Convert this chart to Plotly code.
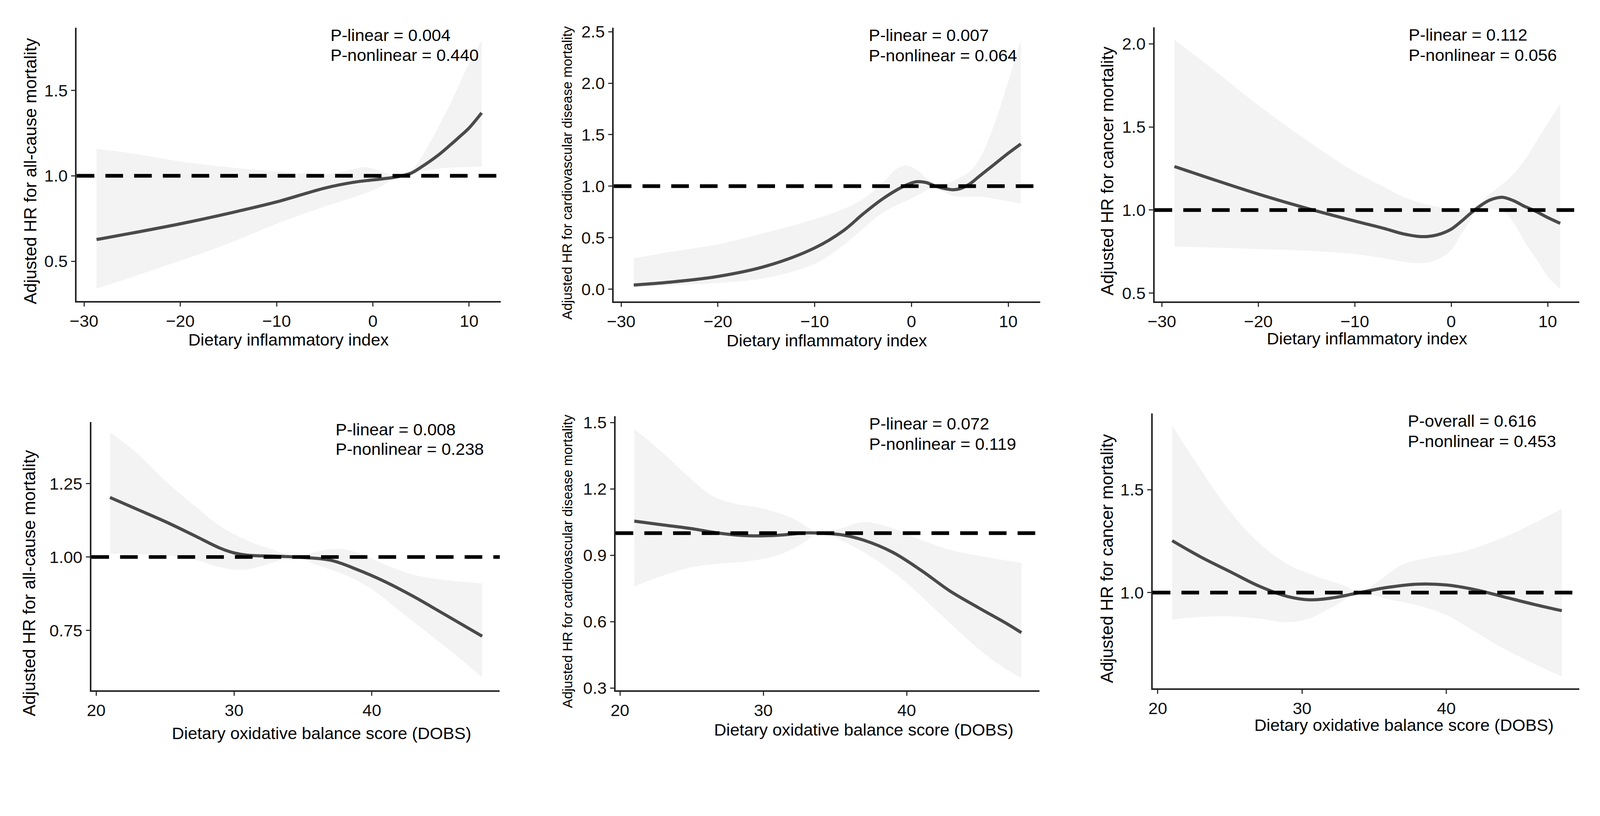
import plotly.graph_objects as go

# The photo is taken at 4345x2090 device pixels; the page viewport is narrower in CSS px,
# so geometry measured on the reference (device px) is converted with K below.
SCREEN_W, SCREEN_H = 4345, 2090
K = 4345 / 4096
BODY = 8  # default page margin in CSS px
W = 4096
H = round(SCREEN_H / K)
REF = 1.0

# ---------------- data ----------------
# Panel 1: DII vs all-cause mortality
p1_cx = [-28.7, -25, -20, -15, -10, -5, -2, 0, 2, 3, 4, 5, 6, 7, 8, 9, 10, 11.3]
p1_cy = [0.627, 0.665, 0.719, 0.78, 0.847, 0.928, 0.962, 0.976, 0.989, 1.0, 1.016, 1.05, 1.088, 1.13, 1.178, 1.228, 1.28, 1.368]
p1_ux = [-28.7, -25, -20, -15, -10, -5, -3, -1, 0, 1, 2, 3, 4, 5, 6, 7, 8, 9, 10, 11.3]
p1_uy = [1.158, 1.131, 1.084, 1.05, 1.026, 1.009, 1.026, 1.05, 1.043, 1.023, 1.005, 1.0, 1.03, 1.104, 1.2, 1.307, 1.415, 1.536, 1.658, 1.793]
p1_lx = [-28.7, -25, -20, -15, -10, -5, -2, 0, 1, 2, 3, 4, 5, 6, 7, 9, 11.3]
p1_ly = [0.34, 0.408, 0.503, 0.604, 0.719, 0.82, 0.874, 0.915, 0.942, 0.976, 1.0, 1.012, 1.026, 1.034, 1.043, 1.05, 1.053]

# Panel 2: DII vs CVD mortality
p2_cx = [-28.7, -25, -20, -15, -10, -7, -5, -3, -1, 0, 0.5, 1.5, 2.5, 3.5, 4.3, 5, 6, 7, 8, 9, 10, 11.3]
p2_cy = [0.04, 0.067, 0.123, 0.224, 0.40, 0.57, 0.73, 0.875, 0.99, 1.03, 1.043, 1.035, 1.0, 0.975, 0.965, 0.975, 1.02, 1.095, 1.17, 1.245, 1.32, 1.41]
p2_ux = [-28.7, -25, -20, -15, -10, -7, -5, -3, -1.5, -0.5, 0.5, 1.5, 2.5, 3.5, 4.5, 6, 7, 8, 9, 10, 11.3]
p2_uy = [0.30, 0.36, 0.435, 0.55, 0.68, 0.78, 0.875, 1.03, 1.17, 1.20, 1.16, 1.08, 1.0, 1.02, 1.06, 1.14, 1.26, 1.46, 1.72, 2.02, 2.42]
p2_lx = [-28.7, -25, -20, -15, -10, -7, -5, -3, -1, 0, 1, 2, 2.5, 3, 4, 5, 7, 9, 11.3]
p2_ly = [0.02, 0.035, 0.06, 0.11, 0.245, 0.43, 0.59, 0.74, 0.84, 0.88, 0.93, 0.985, 1.0, 0.965, 0.915, 0.895, 0.90, 0.87, 0.83]

# Panel 3: DII vs cancer mortality
p3_cx = [-28.7, -25, -20, -15, -10, -7, -5, -3, -1.5, 0, 1, 2, 3, 4, 5.3, 6.5, 7.5, 8.5, 10, 11.3]
p3_cy = [1.262, 1.19, 1.096, 1.011, 0.934, 0.89, 0.857, 0.84, 0.85, 0.885, 0.93, 0.98, 1.025, 1.06, 1.077, 1.055, 1.025, 1.0, 0.955, 0.92]
p3_ux = [-28.7, -25, -20, -15, -10, -7, -5, -3, -1, 1, 2.5, 3.5, 4.5, 6, 7.5, 9, 10, 11.3]
p3_uy = [2.025, 1.86, 1.63, 1.42, 1.23, 1.14, 1.08, 1.04, 1.015, 1.003, 1.0, 1.07, 1.12, 1.19, 1.29, 1.43, 1.52, 1.64]
p3_lx = [-28.7, -25, -20, -15, -10, -7, -5, -3, -1.5, 0, 1, 2, 2.5, 3.5, 4.5, 5.5, 6.5, 7.5, 9, 10, 11.3]
p3_ly = [0.78, 0.775, 0.765, 0.755, 0.735, 0.71, 0.69, 0.68, 0.70, 0.76, 0.85, 0.94, 0.99, 1.0, 1.005, 0.99, 0.92, 0.82, 0.69, 0.60, 0.525]

# Panel 4: DOBS vs all-cause mortality
p4_cx = [21, 23, 25, 27, 29, 30, 31, 33, 34.5, 37, 39, 41, 43, 45, 48]
p4_cy = [1.203, 1.162, 1.121, 1.076, 1.03, 1.014, 1.006, 1.003, 1.0, 0.989, 0.956, 0.915, 0.866, 0.812, 0.73]
p4_ux = [21, 23, 25, 27, 29, 31, 33, 34.5, 36, 37.5, 39, 41, 43, 45, 48]
p4_uy = [1.426, 1.352, 1.26, 1.18, 1.105, 1.055, 1.022, 1.0, 1.018, 1.028, 1.014, 0.973, 0.94, 0.923, 0.91]
p4_lx = [21, 23, 25, 27, 29, 30.5, 32, 34.5, 36, 38, 40, 42, 44, 46, 48]
p4_ly = [1.012, 1.01, 1.006, 0.993, 0.965, 0.956, 0.969, 1.0, 0.973, 0.94, 0.89, 0.817, 0.743, 0.669, 0.59]

# Panel 5: DOBS vs CVD mortality
p5_cx = [21, 23, 25, 27, 29, 31, 33, 34, 35.5, 37, 39, 41, 43, 45, 47, 48]
p5_cy = [1.054, 1.037, 1.02, 0.999, 0.988, 0.99, 1.001, 1.0, 0.992, 0.968, 0.914, 0.832, 0.739, 0.663, 0.59, 0.55]
p5_ux = [21, 23, 25, 26.5, 28, 30, 32, 34, 35.5, 37, 39, 41, 43, 45, 48]
p5_uy = [1.471, 1.362, 1.242, 1.166, 1.133, 1.111, 1.068, 1.0, 1.023, 1.05, 1.023, 0.969, 0.925, 0.898, 0.865]
p5_lx = [21, 23, 25, 27, 29, 31, 32.5, 34, 36, 38, 40, 42, 44, 46, 48]
p5_ly = [0.759, 0.808, 0.846, 0.862, 0.873, 0.9, 0.944, 1.0, 0.949, 0.873, 0.775, 0.655, 0.535, 0.426, 0.344]

# Panel 6: DOBS vs cancer mortality
p6_cx = [21, 23, 25, 27, 29, 30.5, 32, 34, 36, 38, 40, 42, 44, 46, 48]
p6_cy = [1.252, 1.172, 1.102, 1.032, 0.981, 0.965, 0.973, 1.0, 1.026, 1.041, 1.037, 1.014, 0.979, 0.944, 0.912]
p6_ux = [21, 23, 25, 27, 29, 31, 33, 34, 35.5, 37, 39, 41, 43, 45, 48]
p6_uy = [1.81, 1.594, 1.395, 1.242, 1.137, 1.078, 1.032, 1.0, 1.067, 1.137, 1.172, 1.196, 1.242, 1.3, 1.406]
p6_lx = [21, 23, 25, 27, 29, 30.5, 32, 34, 36, 38, 40, 42, 44, 46, 48]
p6_ly = [0.868, 0.882, 0.885, 0.874, 0.856, 0.874, 0.926, 0.996, 0.967, 0.938, 0.891, 0.809, 0.727, 0.657, 0.593]

# tick labels
dii_ticks = [-30, -20, -10, 0, 10]
dii_labels = ["\u221230", "\u221220", "\u221210", "0", "10"]
dobs_ticks = [20, 30, 40]
dobs_labels = ["20", "30", "40"]

p1_yt = [0.5, 1.0, 1.5]; p1_yl = ["0.5", "1.0", "1.5"]
p2_yt = [0.0, 0.5, 1.0, 1.5, 2.0, 2.5]; p2_yl = ["0.0", "0.5", "1.0", "1.5", "2.0", "2.5"]
p3_yt = [0.5, 1.0, 1.5, 2.0]; p3_yl = ["0.5", "1.0", "1.5", "2.0"]
p4_yt = [0.75, 1.0, 1.25]; p4_yl = ["0.75", "1.00", "1.25"]
p5_yt = [0.3, 0.6, 0.9, 1.2, 1.5]; p5_yl = ["0.3", "0.6", "0.9", "1.2", "1.5"]
p6_yt = [1.0, 1.5]; p6_yl = ["1.0", "1.5"]

xtitle_dii = "Dietary inflammatory index"
xtitle_dobs = "Dietary oxidative balance score (DOBS)"
ytitles = ["Adjusted HR for all-cause mortality",
           "Adjusted HR for cardiovascular disease mortality",
           "Adjusted HR for cancer mortality",
           "Adjusted HR for all-cause mortality",
           "Adjusted HR for cardiovascular disease mortality",
           "Adjusted HR for cancer mortality"]
ptext = [("P-linear = 0.004", "P-nonlinear = 0.440"),
         ("P-linear = 0.007", "P-nonlinear = 0.064"),
         ("P-linear = 0.112", "P-nonlinear = 0.056"),
         ("P-linear = 0.008", "P-nonlinear = 0.238"),
         ("P-linear = 0.072", "P-nonlinear = 0.119"),
         ("P-overall = 0.616", "P-nonlinear = 0.453")]

# ---------------- layout geometry (device pixels measured on the reference) ----------------
panels = [
    dict(c=(p1_cx, p1_cy), u=(p1_ux, p1_uy), l=(p1_lx, p1_ly), px=(190, 1347), py=(62, 817),
         xr=[-30.76, 13.3], yr=[0.267, 1.867], xt=(dii_ticks, dii_labels), yt=(p1_yt, p1_yl),
         xtitle=xtitle_dii, xtpos=(768, 924), ytpos=(63, 458), ytsize=47),
    dict(c=(p2_cx, p2_cy), u=(p2_ux, p2_uy), l=(p2_lx, p2_ly), px=(1655, 2818), py=(62, 818),
         xr=[-30.76, 13.3], yr=[-0.12, 2.54], xt=(dii_ticks, dii_labels), yt=(p2_yt, p2_yl),
         xtitle=xtitle_dii, xtpos=(2236, 926), ytpos=(1528, 463), ytsize=37),
    dict(c=(p3_cx, p3_cy), u=(p3_ux, p3_uy), l=(p3_lx, p3_ly), px=(3130, 4289), py=(61, 818),
         xr=[-30.76, 13.3], yr=[0.45, 2.10], xt=(dii_ticks, dii_labels), yt=(p3_yt, p3_yl),
         xtitle=xtitle_dii, xtpos=(3710, 920), ytpos=(3000, 458), ytsize=47),
    dict(c=(p4_cx, p4_cy), u=(p4_ux, p4_uy), l=(p4_lx, p4_ly), px=(230, 1344), py=(1151, 1891),
         xr=[19.65, 49.28], yr=[0.546, 1.46], xt=(dobs_ticks, dobs_labels), yt=(p4_yt, p4_yl),
         xtitle=xtitle_dobs, xtpos=(858, 2010), ytpos=(60, 1595), ytsize=47),
    dict(c=(p5_cx, p5_cy), u=(p5_ux, p5_uy), l=(p5_lx, p5_ly), px=(1660, 2816), py=(1135, 1891),
         xr=[19.7, 49.26], yr=[0.29, 1.528], xt=(dobs_ticks, dobs_labels), yt=(p5_yt, p5_yl),
         xtitle=xtitle_dobs, xtpos=(2337, 2000), ytpos=(1528, 1535), ytsize=37),
    dict(c=(p6_cx, p6_cy), u=(p6_ux, p6_uy), l=(p6_lx, p6_ly), px=(3125, 4288), py=(1127, 1886),
         xr=[19.65, 49.2], yr=[0.535, 1.87], xt=(dobs_ticks, dobs_labels), yt=(p6_yt, p6_yl),
         xtitle=xtitle_dobs, xtpos=(3810, 1987), ytpos=(3000, 1528), ytsize=47),
]


def fx(px):
    return (px / K - BODY) / W


def fy(py):
    return 1 - (py / K - BODY) / H


def s(v):
    return v / K


FONT = "Liberation Sans, Arial, Helvetica, sans-serif"
BAND = "#f3f3f3"
CURVE = "#4a4a4a"
AXIS = "#222222"
FS = s(46)

fig = go.Figure()
layout = dict(width=W, height=H, autosize=False, margin=dict(l=0, r=0, t=0, b=0, pad=0),
              paper_bgcolor="white", plot_bgcolor="white", showlegend=False,
              font=dict(family=FONT, size=FS, color="black"))
annotations = []
shapes = []

for i, p in enumerate(panels, start=1):
    xa = "x" if i == 1 else f"x{i}"
    ya = "y" if i == 1 else f"y{i}"
    xkey = "xaxis" if i == 1 else f"xaxis{i}"
    ykey = "yaxis" if i == 1 else f"yaxis{i}"

    fig.add_trace(go.Scatter(x=p["l"][0], y=p["l"][1], mode="lines",
                             line=dict(width=0, shape="spline", smoothing=1.0, color=BAND),
                             xaxis=xa, yaxis=ya, hoverinfo="skip"))
    fig.add_trace(go.Scatter(x=p["u"][0], y=p["u"][1], mode="lines", fill="tonexty",
                             fillcolor=BAND,
                             line=dict(width=0, shape="spline", smoothing=1.0, color=BAND),
                             xaxis=xa, yaxis=ya, hoverinfo="skip"))
    fig.add_trace(go.Scatter(x=p["c"][0], y=p["c"][1], mode="lines",
                             line=dict(width=s(8.5), shape="spline", smoothing=1.0, color=CURVE),
                             xaxis=xa, yaxis=ya))

    x0, x1 = p["px"]
    y0, y1 = p["py"]
    common = dict(showgrid=False, zeroline=False, showline=True, linewidth=s(4), linecolor=AXIS,
                  ticks="outside", ticklen=s(11), tickwidth=s(3), tickcolor="#333333",
                  tickfont=dict(family=FONT, size=FS, color="#111111"), fixedrange=True)
    layout[xkey] = dict(domain=[fx(x0), fx(x1)], range=p["xr"], anchor=ya,
                        tickmode="array", tickvals=p["xt"][0], ticktext=p["xt"][1], **common)
    layout[ykey] = dict(domain=[fy(y1), fy(y0)], range=p["yr"], anchor=xa,
                        tickmode="array", tickvals=p["yt"][0], ticktext=p["yt"][1], **common)

    shapes.append(dict(type="line", xref=f"{xa} domain", yref=ya, x0=0, x1=1, y0=REF, y1=REF,
                       line=dict(color="black", width=s(10), dash=f"{s(48):.1f}px,{s(30):.1f}px"),
                       layer="above"))

    # P-value texts
    annotations.append(dict(text=ptext[i - 1][0], xref=f"{xa} domain", yref=f"{ya} domain",
                            x=0.596, y=0.973, xanchor="left", yanchor="middle", showarrow=False,
                            font=dict(family=FONT, size=FS, color="black")))
    annotations.append(dict(text=ptext[i - 1][1], xref=f"{xa} domain", yref=f"{ya} domain",
                            x=0.596, y=0.899, xanchor="left", yanchor="middle", showarrow=False,
                            font=dict(family=FONT, size=FS, color="black")))
    # axis titles
    annotations.append(dict(text=p["xtitle"], xref="paper", yref="paper",
                            x=fx(p["xtpos"][0]), y=fy(p["xtpos"][1]),
                            xanchor="center", yanchor="middle", showarrow=False,
                            font=dict(family=FONT, size=FS, color="black")))
    annotations.append(dict(text=ytitles[i - 1], xref="paper", yref="paper",
                            x=fx(p["ytpos"][0]), y=fy(p["ytpos"][1]), textangle=-90,
                            xanchor="center", yanchor="middle", showarrow=False,
                            font=dict(family=FONT, size=s(p["ytsize"]), color="black")))

layout["annotations"] = annotations
layout["shapes"] = shapes
fig.update_layout(**layout)
fig.write_html("out.html")
